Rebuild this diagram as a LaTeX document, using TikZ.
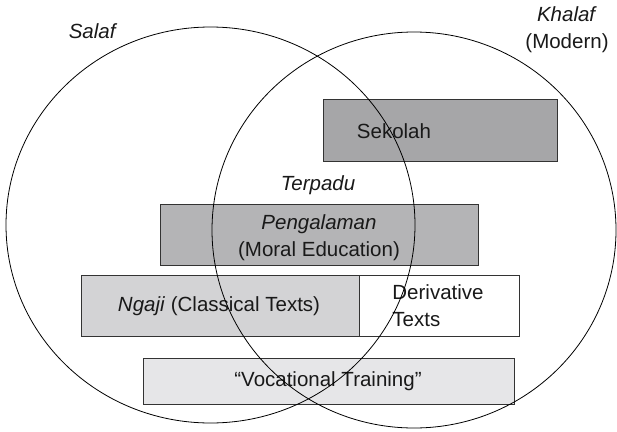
\documentclass[tikz,border=0pt]{standalone}
\usepackage{fontspec}
\setmainfont{Liberation Sans}
\begin{document}
\begin{tikzpicture}[x=1pt,y=-1pt,
  every node/.style={font=\fontsize{20.5}{27}\selectfont, text=black!90},
  box/.style={draw=black!80, line width=0.9pt, inner sep=0pt},
  lbl/.style={inner sep=0pt, align=center},
  ring/.style={draw=black, line width=0.8pt}]
\useasboundingbox (0,0) rectangle (617,431);
\definecolor{cSek}{HTML}{A6A6A8}
\definecolor{cPen}{HTML}{B4B4B6}
\definecolor{cNga}{HTML}{D3D3D5}
\definecolor{cVoc}{HTML}{E6E6E8}
% boxes
\node[box, fill=cSek, minimum width=234pt, minimum height=62pt] (sek) at (440,130) {};
\node[box, fill=cPen, minimum width=318pt, minimum height=61pt] (pen) at (319,234.5) {};
\node[box, fill=cNga, minimum width=278pt, minimum height=61pt] (nga) at (220,305.5) {};
\node[box, fill=white, minimum width=160pt, minimum height=61pt] (der) at (439,305.5) {};
\node[box, fill=cVoc, minimum width=371pt, minimum height=46pt] (voc) at (328.5,381) {};
% texts
\node[lbl] (tsek) at (394,131) {Sekolah};
\node[lbl] (tpen) at (319,238) {\textit{Pengalaman}\\(Moral Education)};
\node[lbl] (tnga) at (219,306) {\textit{Ngaji} (Classical Texts)};
\node[lbl, align=left] (tder) at (438,306) {Derivative\\Texts};
\node[lbl] (tvoc) at (328,381) {``Vocational Training''};
\node[lbl] (terp) at (318,185) {\textit{Terpadu}};
\node[lbl] (salaf) at (93,31) {\textit{Salaf}};
\node[lbl] (khalaf) at (567,30) {\textit{Khalaf}\\(Modern)};
% circles
\draw[ring] (210.5,225) ellipse [x radius=204.5, y radius=198];
\draw[ring] (414,230) ellipse [x radius=202, y radius=198];
\end{tikzpicture}
\end{document}
